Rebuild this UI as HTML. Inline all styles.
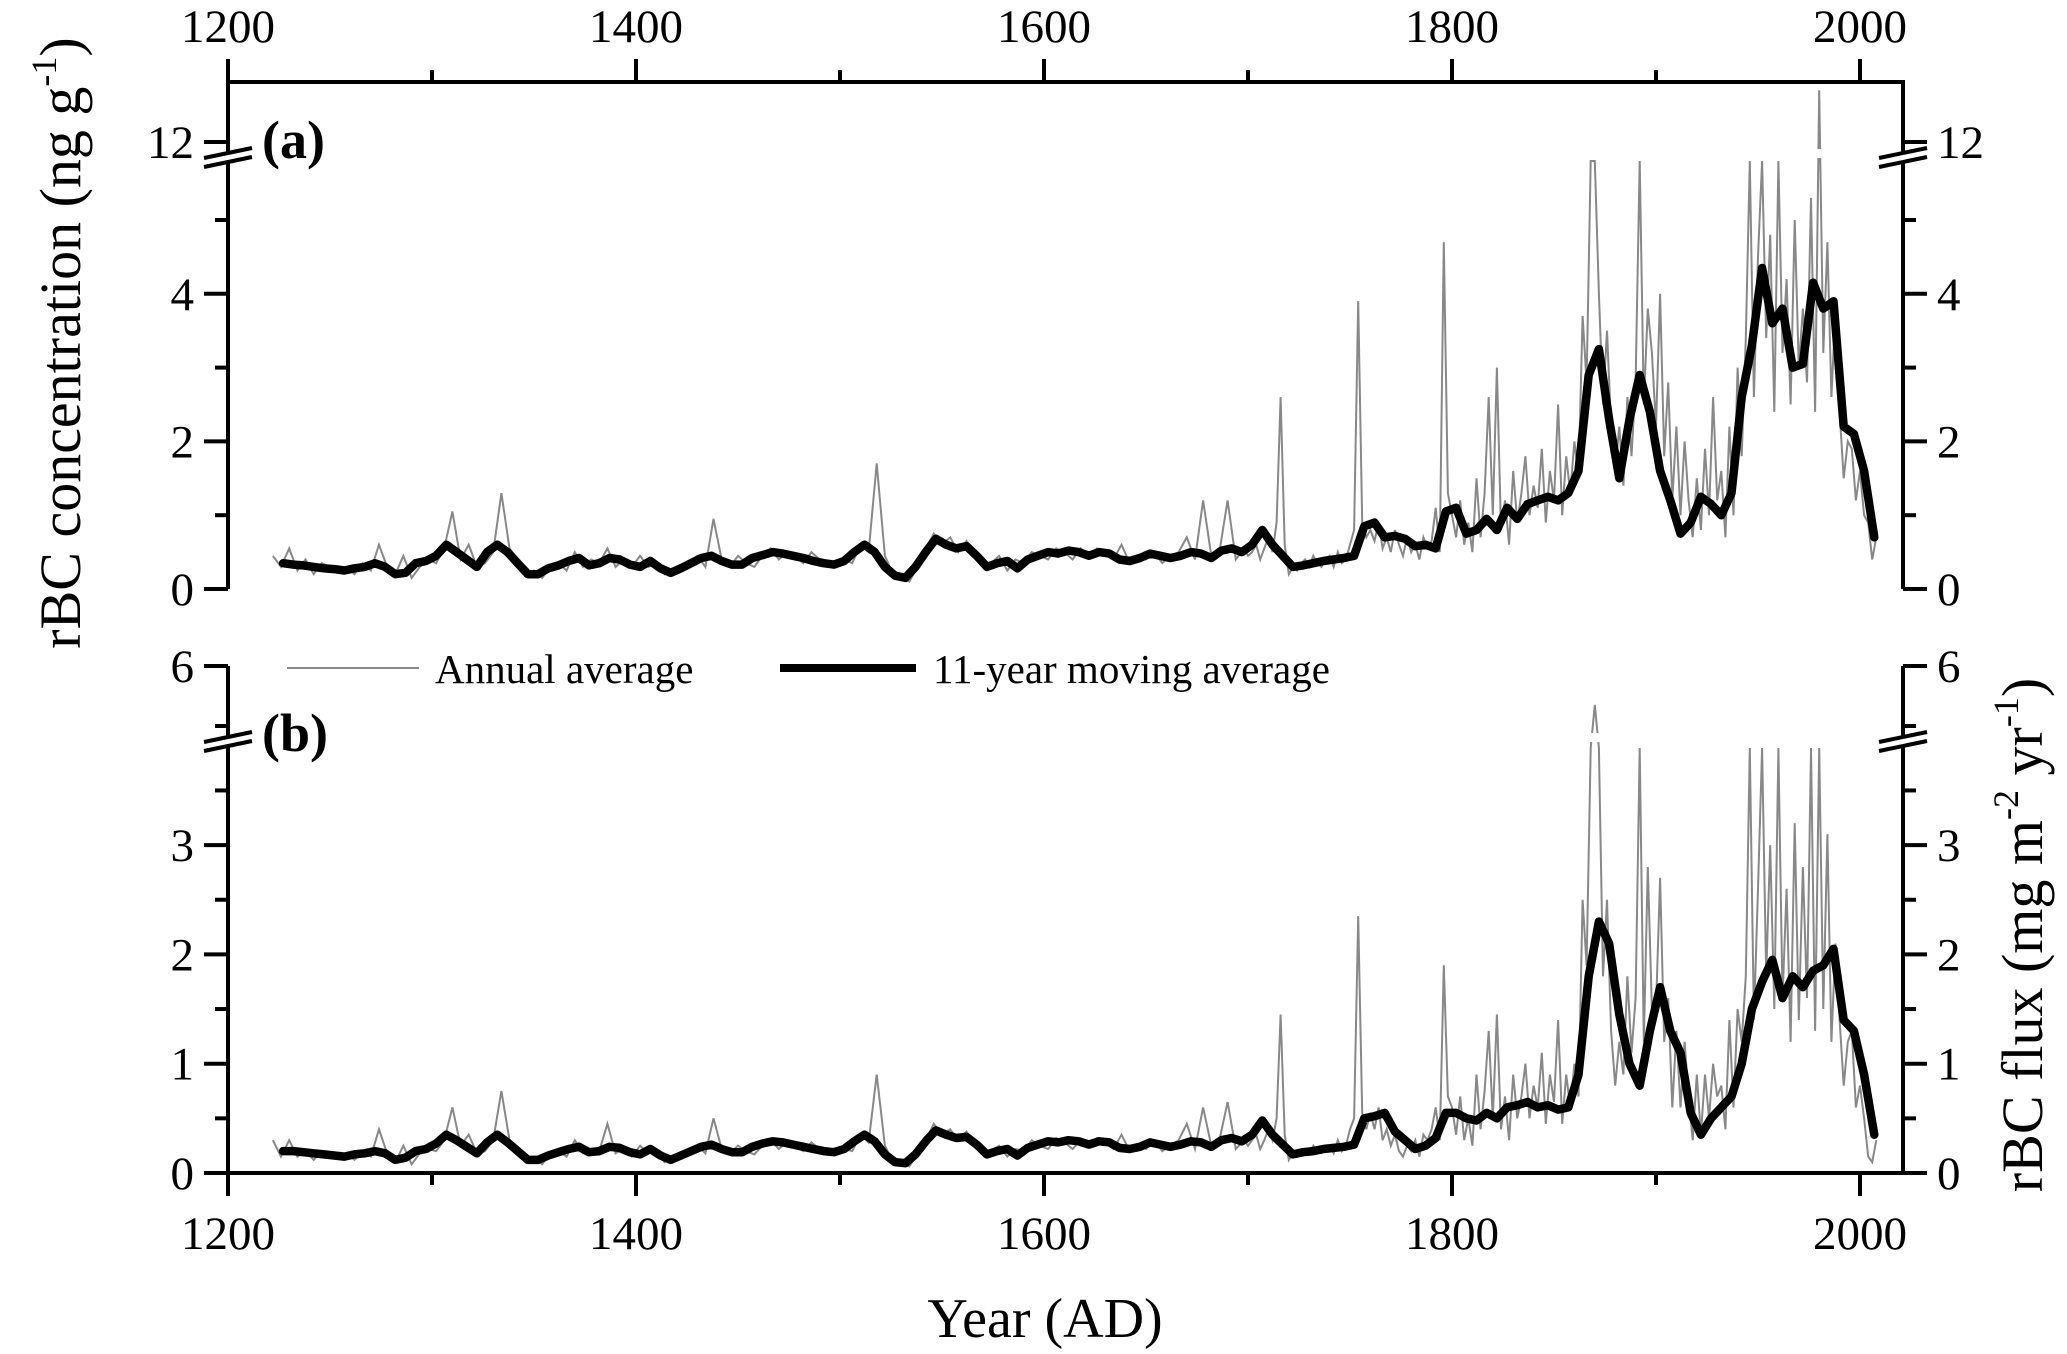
<!DOCTYPE html>
<html>
<head>
<meta charset="utf-8">
<style>
  html,body{margin:0;padding:0;background:#fff;}
  svg{display:block;font-family:"Liberation Serif","Times New Roman",serif;}
</style>
</head>
<body>
<svg id="chart" width="2067" height="1354" viewBox="0 0 2067 1354" xmlns="http://www.w3.org/2000/svg">
  <rect x="0" y="0" width="2067" height="1354" fill="#fff"/>
  <g id="plot"></g>
  <g id="axes"></g>

  <text transform="translate(80,343) rotate(-90)" text-anchor="middle" font-size="58">rBC concentration (ng g<tspan font-size="36" dy="-24">-1</tspan><tspan dy="24">)</tspan></text>
  <text transform="translate(2042,935) rotate(-90)" text-anchor="middle" font-size="58">rBC flux (mg m<tspan font-size="36" dy="-24">-2</tspan><tspan dy="24"> yr</tspan><tspan font-size="36" dy="-24">-1</tspan><tspan dy="24">)</tspan></text>
  <text x="1045" y="1337" text-anchor="middle" font-size="56">Year (AD)</text>

  <text x="262" y="158" font-size="54" font-weight="bold">(a)</text>
  <text x="262" y="751" font-size="54" font-weight="bold">(b)</text>

  <g>
    <line x1="287" y1="668" x2="419" y2="668" stroke="#888" stroke-width="2"/>
    <text x="435" y="683" font-size="41">Annual average</text>
    <line x1="780" y1="668" x2="916" y2="668" stroke="#000" stroke-width="8"/>
    <text x="933" y="683" font-size="41">11-year moving average</text>
  </g>
</svg>
<script>
const annualEarlyStart = 1222, annualEarlyStep = 4;
const annualLateStart = 1700, annualLateStep = 2;
const maStart = 1227, maStep = 5;

const concAnnualEarly = [
0.45,0.3,0.55,0.25,0.4,0.2,0.35,0.3,0.25,0.3,
0.2,0.35,0.25,0.6,0.3,0.2,0.45,0.15,0.3,0.4,
0.35,0.55,1.05,0.4,0.6,0.3,0.35,0.5,1.3,0.55,
0.4,0.2,0.25,0.15,0.3,0.35,0.25,0.5,0.3,0.4,
0.35,0.55,0.3,0.4,0.3,0.45,0.3,0.35,0.2,0.25,
0.3,0.35,0.45,0.3,0.95,0.4,0.3,0.45,0.35,0.3,
0.45,0.55,0.4,0.5,0.45,0.35,0.5,0.4,0.3,0.35,
0.4,0.35,0.6,0.5,1.7,0.45,0.2,0.15,0.1,0.3,
0.55,0.75,0.6,0.7,0.5,0.65,0.45,0.3,0.35,0.45,
0.25,0.4,0.35,0.5,0.45,0.4,0.55,0.5,0.4,0.55,
0.45,0.55,0.5,0.4,0.6,0.35,0.45,0.4,0.5,0.35,
0.45,0.5,0.7,0.4,1.2,0.45,0.5,1.2,0.4,0.55];
const concAnnualLate = [
0.45,0.5,0.6,0.4,0.55,0.7,0.5,0.9,2.6,0.6,
0.2,0.3,0.25,0.35,0.4,0.3,0.45,0.35,0.3,0.4,
0.45,0.3,0.5,0.35,0.4,0.6,0.8,3.9,0.9,0.7,
0.8,0.65,0.9,0.55,0.7,0.5,0.8,0.6,0.45,0.7,
0.5,0.6,0.4,0.7,0.55,0.65,1.1,0.5,4.7,1.3,
1.0,0.7,1.2,0.6,0.9,0.5,1.5,0.7,1.3,2.6,
1.0,3.0,0.8,1.2,0.6,1.6,0.9,1.3,1.8,1.0,
1.4,1.1,1.9,0.9,1.6,1.2,2.5,1.0,1.8,1.3,
2.0,1.5,3.7,2.8,5.9,5.9,4.0,2.5,3.5,2.2,
1.6,2.2,1.4,2.6,1.8,2.8,5.9,2.5,3.8,3.2,
2.2,4.0,1.8,2.8,1.2,2.2,1.0,2.0,1.2,0.7,
1.5,0.8,1.9,1.0,2.6,1.2,1.6,0.7,2.2,1.0,
3.0,1.8,3.4,5.9,2.6,4.5,5.9,3.4,4.8,2.4,
5.9,3.2,4.2,2.5,5.0,3.0,3.8,2.8,5.3,2.4,
12.7,3.2,4.7,2.6,3.8,2.4,1.5,2.0,1.9,1.2,
1.6,1.0,0.9,0.4,0.7];
const concMA = [
0.35,0.33,0.32,0.3,0.28,0.27,0.25,0.28,0.3,0.35,
0.3,0.2,0.22,0.35,0.38,0.45,0.6,0.5,0.4,0.3,
0.5,0.6,0.5,0.35,0.2,0.2,0.28,0.32,0.38,0.42,
0.32,0.35,0.42,0.4,0.33,0.3,0.38,0.28,0.22,0.28,
0.35,0.42,0.45,0.38,0.33,0.33,0.42,0.46,0.5,0.48,
0.45,0.42,0.38,0.35,0.33,0.38,0.5,0.6,0.5,0.3,
0.18,0.15,0.3,0.5,0.68,0.6,0.55,0.58,0.45,0.3,
0.35,0.38,0.28,0.4,0.45,0.5,0.48,0.52,0.5,0.45,
0.5,0.48,0.4,0.38,0.42,0.48,0.45,0.42,0.45,0.5,
0.48,0.42,0.52,0.55,0.5,0.6,0.8,0.6,0.45,0.3,
0.32,0.35,0.38,0.4,0.42,0.45,0.85,0.9,0.7,0.72,
0.68,0.58,0.6,0.55,1.05,1.1,0.75,0.8,0.95,0.8,
1.1,0.95,1.15,1.2,1.25,1.2,1.3,1.6,2.9,3.25,
2.3,1.5,2.3,2.9,2.4,1.6,1.2,0.75,0.9,1.25,
1.15,1.0,1.3,2.6,3.3,4.35,3.6,3.8,3.0,3.05,
4.15,3.8,3.9,2.2,2.1,1.6,
0.7];

const fluxAnnualEarly = [
0.3,0.15,0.3,0.15,0.2,0.12,0.2,0.18,0.15,0.18,
0.12,0.2,0.15,0.4,0.18,0.1,0.25,0.08,0.18,0.22,
0.2,0.3,0.6,0.25,0.35,0.18,0.2,0.3,0.75,0.3,
0.22,0.1,0.15,0.08,0.18,0.2,0.15,0.3,0.18,0.22,
0.2,0.45,0.18,0.22,0.15,0.25,0.18,0.2,0.1,0.15,
0.18,0.2,0.25,0.18,0.5,0.22,0.18,0.25,0.2,0.17,
0.25,0.3,0.22,0.28,0.25,0.2,0.28,0.22,0.17,0.2,
0.22,0.2,0.35,0.28,0.9,0.25,0.1,0.08,0.06,0.18,
0.3,0.45,0.35,0.4,0.3,0.38,0.25,0.18,0.2,0.25,
0.15,0.22,0.2,0.3,0.25,0.22,0.32,0.28,0.22,0.3,
0.25,0.32,0.28,0.22,0.35,0.2,0.25,0.22,0.3,0.2,
0.25,0.3,0.45,0.22,0.6,0.25,0.3,0.65,0.22,0.3];
const fluxAnnualLate = [
0.25,0.3,0.35,0.22,0.3,0.4,0.3,0.5,1.45,0.35,
0.12,0.18,0.15,0.2,0.22,0.18,0.25,0.2,0.18,0.22,
0.25,0.18,0.3,0.2,0.25,0.4,0.5,2.35,0.55,0.4,
0.55,0.4,0.6,0.3,0.4,0.25,0.35,0.2,0.15,0.25,
0.2,0.3,0.15,0.35,0.3,0.4,0.6,0.3,1.9,0.7,
0.6,0.35,0.7,0.3,0.5,0.25,0.9,0.4,0.75,1.3,
0.5,1.45,0.4,0.7,0.3,0.9,0.5,0.7,1.0,0.5,
0.8,0.6,1.1,0.45,0.9,0.65,1.4,0.45,0.9,0.6,
1.0,0.7,2.5,1.9,3.95,5.5,3.95,1.8,2.5,1.3,
0.8,1.2,0.9,1.8,1.1,1.6,3.95,1.2,2.8,1.5,
1.5,2.7,1.2,1.6,0.6,1.3,0.6,1.2,0.7,0.3,
0.9,0.35,0.9,0.5,1.0,0.7,0.8,0.4,1.4,0.6,
1.5,1.2,1.8,3.95,1.4,2.6,3.95,1.8,3.0,1.5,
3.95,1.6,2.6,1.2,3.2,1.4,2.8,1.6,3.95,1.3,
3.95,1.5,3.1,1.2,2.1,1.4,0.8,1.2,1.3,0.6,
0.8,0.5,0.15,0.1,0.3];
const fluxMA = [
0.2,0.2,0.19,0.18,0.17,0.16,0.15,0.17,0.18,0.2,
0.18,0.12,0.14,0.2,0.22,0.27,0.35,0.3,0.24,0.18,
0.28,0.35,0.28,0.2,0.12,0.12,0.16,0.19,0.22,0.24,
0.19,0.2,0.24,0.23,0.19,0.17,0.22,0.16,0.12,0.16,
0.2,0.24,0.26,0.22,0.19,0.19,0.24,0.27,0.29,0.28,
0.26,0.24,0.22,0.2,0.19,0.22,0.29,0.35,0.29,0.17,
0.1,0.09,0.17,0.29,0.39,0.35,0.32,0.33,0.26,0.17,
0.2,0.22,0.16,0.23,0.26,0.29,0.28,0.3,0.29,0.26,
0.29,0.28,0.23,0.22,0.24,0.28,0.26,0.24,0.26,0.29,
0.28,0.24,0.3,0.32,0.29,0.35,0.48,0.35,0.26,0.17,
0.19,0.2,0.22,0.23,0.24,0.26,0.5,0.52,0.55,0.38,
0.3,0.22,0.25,0.32,0.55,0.55,0.5,0.48,0.55,0.5,
0.6,0.62,0.65,0.6,0.62,0.58,0.6,0.9,1.8,2.3,
2.1,1.45,1.0,0.8,1.3,1.7,1.3,1.1,0.55,0.35,
0.5,0.6,0.7,1.0,1.5,1.75,1.95,1.6,1.8,1.7,
1.85,1.9,2.05,1.4,1.3,0.9,
0.35];

const xTickYears = [1200,1300,1400,1500,1600,1700,1800,1900,2000];
const xTickLabels = ["1200","","1400","","1600","","1800","","2000"];
const concTicks = [0,1,2,3,4,5];
const concTickLabels = ["0","","2","","4",""];
const fluxTicks = [0,0.5,1,1.5,2,2.5,3,3.5];
const fluxTickLabels = ["0","","1","","2","","3",""];

const X0 = 228, XL = 228, XR = 1903;
function xs(year){ return 228 + (year - 1200) * 2.04; }
const A_ZERO = 589, A_UNIT = 73.8, A_TOP12 = 142;
function ya(v){
  if (v <= 5.85) return A_ZERO - v * A_UNIT;
  if (v < 11.8) return 161;
  return A_TOP12 - (v - 12) * A_UNIT;
}
const B_ZERO = 1173, B_UNIT = 109.3;
function yb(v){
  if (v <= 3.9) return B_ZERO - v * B_UNIT;
  if (v <= 5.0) return 748;
  return 744 - (v - 5) * 78;
}

const NS = "http://www.w3.org/2000/svg";
const plot = document.getElementById('plot');
const axes = document.getElementById('axes');
function mk(tag, attrs, parent){
  const e = document.createElementNS(NS, tag);
  for (const k in attrs) e.setAttribute(k, attrs[k]);
  parent.appendChild(e);
  return e;
}
function seriesPoints(early, late, yf){
  const pts = [];
  for (let i = 0; i < early.length; i++){
    const yr = annualEarlyStart + i * annualEarlyStep;
    if (yr >= annualLateStart) break;
    pts.push([xs(yr), yf(early[i])]);
  }
  for (let i = 0; i < late.length; i++){
    const yr = annualLateStart + i * annualLateStep;
    pts.push([xs(yr), yf(late[i])]);
  }
  return pts;
}
function maPoints(arr, yf){ return arr.map((v, i) => [xs(maStart + i * maStep), yf(v)]); }
function toD(pts){ return pts.map((p,i)=>(i?'L':'M')+p[0].toFixed(1)+' '+p[1].toFixed(1)).join(' '); }

const annA = mk('path', {d: toD(seriesPoints(concAnnualEarly, concAnnualLate, ya)), fill:'none', stroke:'#888', 'stroke-width':2}, plot);


const maA = mk('path', {d: toD(maPoints(concMA, ya)), fill:'none', stroke:'#000', 'stroke-width':8.5, 'stroke-linejoin':'round', 'stroke-linecap':'round'}, plot);



const annB = mk('path', {d: toD(seriesPoints(fluxAnnualEarly, fluxAnnualLate, yb)), fill:'none', stroke:'#888', 'stroke-width':2}, plot);


const maB = mk('path', {d: toD(maPoints(fluxMA, yb)), fill:'none', stroke:'#000', 'stroke-width':8.5, 'stroke-linejoin':'round', 'stroke-linecap':'round'}, plot);



const gapA = mk('rect', {x: X0+3, y: 149, width: XR-X0-6, height: 9, fill:'#fff'}, plot);


const gapB = mk('rect', {x: X0+3, y: 733, width: XR-X0-6, height: 9, fill:'#fff'}, plot);



const SW = 4;
function line(x1,y1,x2,y2,name,w){
  const l = mk('line', {x1,y1,x2,y2,stroke:'#000','stroke-width':w||SW}, axes);
  
  
  return l;
}
function txt(x,y,s,anchor,name,size){
  const t = mk('text', {x,y,'text-anchor':anchor,'font-size':size||47}, axes);
  t.textContent = s;
  
  
  return t;
}
line(XL-2, 82, XR+2, 82, 'top-x-axis');
line(XL-2, 1173, XR+2, 1173, 'bottom-x-axis');
line(XL, 82, XL, 589, 'left-y-axis-a');
line(XR, 82, XR, 589, 'right-y-axis-a');
line(XL, 666, XL, 1173, 'left-y-axis-b');
line(XR, 666, XR, 1173, 'right-y-axis-b');

xTickYears.forEach((yr, i) => {
  const x = xs(yr);
  const major = xTickLabels[i] !== "";
  const len = major ? 23 : 12;
  line(x, 82, x, 82 - len, 'top-x-tick');
  line(x, 1173, x, 1173 + len, 'bottom-x-tick');
  if (major){
    txt(x, 42, xTickLabels[i], 'middle', 'top-x-tick-label');
    txt(x, 1249, xTickLabels[i], 'middle', 'bottom-x-tick-label');
  }
});

concTicks.forEach((v, i) => {
  const y = ya(v);
  const major = concTickLabels[i] !== "";
  const len = major ? 24 : 13;
  line(XL - len, y, XL, y, 'left-y-tick-a');
  line(XR, y, XR + len, y, 'right-y-tick-a');
  if (major){
    txt(XL - 34, y + 16, concTickLabels[i], 'end', 'left-y-tick-label-a');
    txt(XR + 34, y + 16, concTickLabels[i], 'start', 'right-y-tick-label-a');
  }
});
line(XL - 24, ya(12), XL, ya(12), 'left-y-tick-a-12');
line(XR, ya(12), XR + 24, ya(12), 'right-y-tick-a-12');
txt(XL - 34, ya(12) + 16, '12', 'end', 'left-y-tick-label-a-12');
txt(XR + 34, ya(12) + 16, '12', 'start', 'right-y-tick-label-a-12');

fluxTicks.forEach((v, i) => {
  const y = yb(v);
  const major = fluxTickLabels[i] !== "";
  const len = major ? 24 : 13;
  line(XL - len, y, XL, y, 'left-y-tick-b');
  line(XR, y, XR + len, y, 'right-y-tick-b');
  if (major){
    txt(XL - 34, y + 16, fluxTickLabels[i], 'end', 'left-y-tick-label-b');
    txt(XR + 34, y + 16, fluxTickLabels[i], 'start', 'right-y-tick-label-b');
  }
});
line(XL - 13, 726, XL, 726, 'left-y-tick-b-minor-top');
line(XR, 726, XR + 13, 726, 'right-y-tick-b-minor-top');
line(XL - 24, 666, XL, 666, 'left-y-tick-b-6');
line(XR, 666, XR + 24, 666, 'right-y-tick-b-6');
txt(XL - 34, 682, '6', 'end', 'left-y-tick-label-b-6');
txt(XR + 34, 682, '6', 'start', 'right-y-tick-label-b-6');

function brk(x, y, name){
  const g = mk('g', {}, axes);
  
  
  mk('polygon', {points: `${x-8},${y-3} ${x+8},${y-6} ${x+8},${y+5} ${x-8},${y+8}`, fill:'#fff'}, g);
  mk('line', {x1:x-24, y1:y+2, x2:x+24, y2:y-8, stroke:'#000','stroke-width':4}, g);
  mk('line', {x1:x-24, y1:y+11, x2:x+24, y2:y+1, stroke:'#000','stroke-width':4}, g);
}
brk(XL, 156, 'left-axis-break-a');
brk(XR, 156, 'right-axis-break-a');
brk(XL, 740, 'left-axis-break-b');
brk(XR, 740, 'right-axis-break-b');
</script>
</body>
</html>
